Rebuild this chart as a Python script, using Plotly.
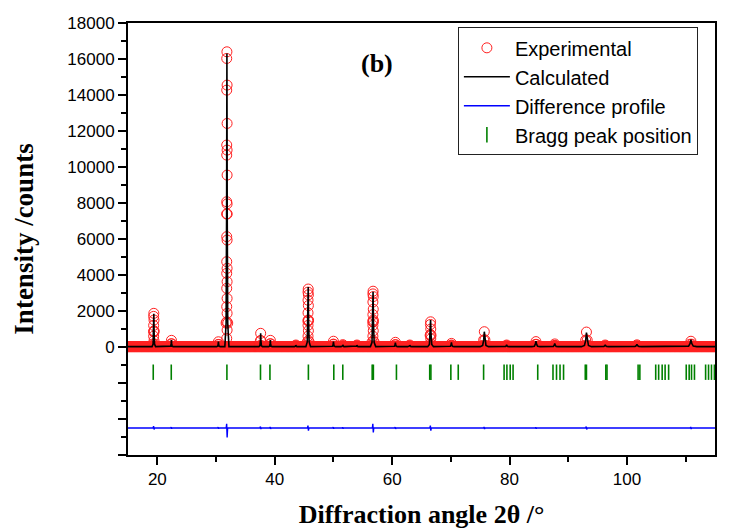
import plotly.graph_objects as go

# ---------------- data ----------------
# measurement scan (2-theta, degrees) and flat background (counts)
scan_start, scan_end, scan_step = 15.0, 115.0, 0.05
background = 20

# reflections: position (2theta), calculated peak height, observed peak height, half base width
peak_pos = [19.40, 22.40, 30.40, 31.85, 37.60, 39.25, 43.60, 45.70, 50.00, 51.60, 54.00,
            56.75, 60.55, 63.00, 66.55, 70.10, 75.70, 79.50, 84.50, 87.70, 93.10, 96.30,
            101.70, 110.90]
calc_peak = [1850, 390, 300, 16300, 760, 390, 100, 3330, 300, 120, 100,
             3070, 250, 100, 1500, 250, 850, 120, 330, 200, 800, 120,
             150, 400]
obs_peak = [1870, 370, 290, 16400, 760, 370, 110, 3220, 320, 130, 110,
            3100, 260, 110, 1400, 200, 850, 110, 300, 170, 830, 110,
            120, 320]
peak_hw = [0.30, 0.30, 0.30, 0.35, 0.30, 0.30, 0.25, 0.40, 0.35, 0.30, 0.30,
           0.45, 0.40, 0.35, 0.50, 0.45, 0.70, 0.45, 0.70, 0.60, 0.85, 0.60,
           0.80, 1.00]

# relative peak profile template (fraction of half width, fraction of height)
prof_dx = [-1.0, -0.40, -0.15, 0.0, 0.15, 0.40, 1.0]
prof_f = [0.0, 0.08, 0.45, 1.0, 0.45, 0.08, 0.0]

# stacked observed circles on the steep peaks (counts)
stack_pos = [19.40, 31.85, 45.70, 56.75, 66.55]
stack_19 = [1700, 1500, 1200, 900, 600, 350]
stack_31 = [16030, 14550, 14270, 12420, 11220, 10940, 10660, 9550, 8070, 7950, 6130,
            5940, 4740, 4370, 4090, 3630, 3260, 2700, 2240, 1870, 1400, 940, 480]
stack_45 = [3050, 2900, 2600, 2300, 1900, 1500, 1200, 900, 600, 350]
stack_56 = [2950, 2800, 2500, 2100, 1800, 1500, 1200, 900, 600, 350]
stack_66 = [1250, 1000, 700, 450]
stack_vals = [stack_19, stack_31, stack_45, stack_56, stack_66]

# difference profile (offset, spikes up / down in counts)
diff_offset = -4500
diff_pos = [19.40, 22.40, 30.40, 31.85, 37.60, 39.25, 45.70, 50.00, 51.60, 56.75,
            60.55, 66.55, 75.70, 84.50, 93.10, 110.90]
diff_up = [100, 50, 50, 230, 80, 60, 130, 50, 40, 230, 50, 130, 60, 40, 80, 60]
diff_down = [80, 40, 40, 520, 60, 50, 150, 40, 40, 250, 50, 150, 60, 40, 80, 60]

# Bragg reflections (2theta) and their plotting level
bragg_pos = [19.30, 22.37, 31.85, 37.57, 39.18, 45.73, 50.06, 51.59, 56.60, 56.80,
             60.73, 66.40, 66.60, 70.00, 71.26, 75.58, 79.07, 79.55, 80.11, 80.60,
             84.80, 87.40, 88.00, 88.60, 89.20, 92.90, 93.10, 96.40, 96.60, 101.90,
             102.20, 104.90, 105.40, 106.00, 106.50, 107.10, 110.10, 110.60, 111.00,
             111.50, 113.40, 113.90, 114.40, 114.90]
bragg_level = -1400

# axis ticks
x_tick_vals = [20, 40, 60, 80, 100]
x_minor_vals = [30, 50, 70, 90, 110]
y_tick_vals = [-6000, -4000, -2000, 0, 2000, 4000, 6000, 8000, 10000, 12000, 14000, 16000, 18000]
y_tick_text = ['', '', '', '0', '2000', '4000', '6000', '8000', '10000', '12000', '14000', '16000', '18000']
y_minor_vals = [-5000, -3000, -1000, 1000, 3000, 5000, 7000, 9000, 11000, 13000, 15000, 17000]

# ---------------- build series ----------------
n_scan = int(round((scan_end - scan_start) / scan_step)) + 1
scan_x = [scan_start + i * scan_step for i in range(n_scan)]

# experimental points: background scan + peak profile points + stacked circles
exp_x = list(scan_x)
exp_y = [background] * n_scan
for p, h, w in zip(peak_pos, obs_peak, peak_hw):
    for dx, f in zip(prof_dx, prof_f):
        if f > 0:
            exp_x.append(p + dx * w)
            exp_y.append(background + f * (h - background))
for p, vals in zip(stack_pos, stack_vals):
    for k, v in enumerate(vals):
        exp_x.append(p + (0.03 if k % 2 else -0.03))
        exp_y.append(v)

# calculated profile line
calc_x = [scan_start]
calc_y = [background]
for p, h, w in zip(peak_pos, calc_peak, peak_hw):
    for dx, f in zip(prof_dx, prof_f):
        calc_x.append(p + dx * w)
        calc_y.append(background + f * (h - background))
calc_x.append(scan_end)
calc_y.append(background)

# difference line
diff_x = [scan_start]
diff_y = [diff_offset]
for p, u, d in zip(diff_pos, diff_up, diff_down):
    diff_x += [p - 0.12, p - 0.04, p + 0.04, p + 0.12]
    diff_y += [diff_offset, diff_offset + u, diff_offset - d, diff_offset]
diff_x.append(scan_end)
diff_y.append(diff_offset)

bragg_y = [bragg_level] * len(bragg_pos)

# ---------------- figure ----------------
fig = go.Figure()
fig.add_trace(go.Scatter(
    x=exp_x, y=exp_y, mode='markers', name='Experimental',
    marker=dict(symbol='circle-open', size=10, color='#ff2020', line=dict(width=1.0, color='#ff2020'))))
fig.add_trace(go.Scatter(
    x=calc_x, y=calc_y, mode='lines', name='Calculated',
    line=dict(color='black', width=1.6)))
fig.add_trace(go.Scatter(
    x=diff_x, y=diff_y, mode='lines', name='Difference profile',
    line=dict(color='#0000ff', width=1.4)))
fig.add_trace(go.Scatter(
    x=bragg_pos, y=bragg_y, mode='markers', name='Bragg peak position',
    marker=dict(symbol='line-ns', size=11, color='#008000', line=dict(width=1.6, color='#008000'))))

serif = 'Liberation Serif, Times New Roman, serif'
sans = 'Liberation Sans, Arial, sans-serif'

fig.update_layout(
    width=749, height=531,
    margin=dict(l=128, r=34, t=23, b=76),
    paper_bgcolor='white', plot_bgcolor='white',
    font=dict(family=sans, size=17, color='black'),
    showlegend=True,
    legend=dict(x=0.562, y=0.99, xanchor='left', yanchor='top',
                bordercolor='#222222', borderwidth=1, bgcolor='white',
                font=dict(family=sans, size=20, color='black'),
                itemwidth=46, tracegroupgap=0),
    xaxis=dict(range=[15, 115], tickmode='array', tickvals=x_tick_vals,
               ticks='outside', ticklen=8, tickwidth=1.5, tickcolor='black',
               showline=True, linecolor='black', linewidth=2, mirror=True,
               showgrid=False, zeroline=False, automargin=False,
               tickfont=dict(family=sans, size=17),
               minor=dict(tickmode='array', tickvals=x_minor_vals, ticks='outside',
                          ticklen=5, tickwidth=1.5, tickcolor='black', showgrid=False),
               title=dict(text='<b>Diffraction angle 2θ /°</b>',
                          font=dict(family=serif, size=26), standoff=16)),
    yaxis=dict(range=[-6000, 18000], tickmode='array', tickvals=y_tick_vals, ticktext=y_tick_text,
               ticks='outside', ticklen=8, tickwidth=1.5, tickcolor='black',
               showline=True, linecolor='black', linewidth=2, mirror=True,
               showgrid=False, zeroline=False, automargin=False,
               tickfont=dict(family=sans, size=17),
               minor=dict(tickmode='array', tickvals=y_minor_vals, ticks='outside',
                          ticklen=5, tickwidth=1.5, tickcolor='black', showgrid=False),
               title=dict(text='<b>Intensity /counts</b>',
                          font=dict(family=serif, size=27), standoff=26)),
    annotations=[dict(x=57.5, y=15750, xref='x', yref='y', text='<b>(b)</b>',
                      showarrow=False, font=dict(family=serif, size=26, color='black'))],
)

fig.write_html('out.html')
